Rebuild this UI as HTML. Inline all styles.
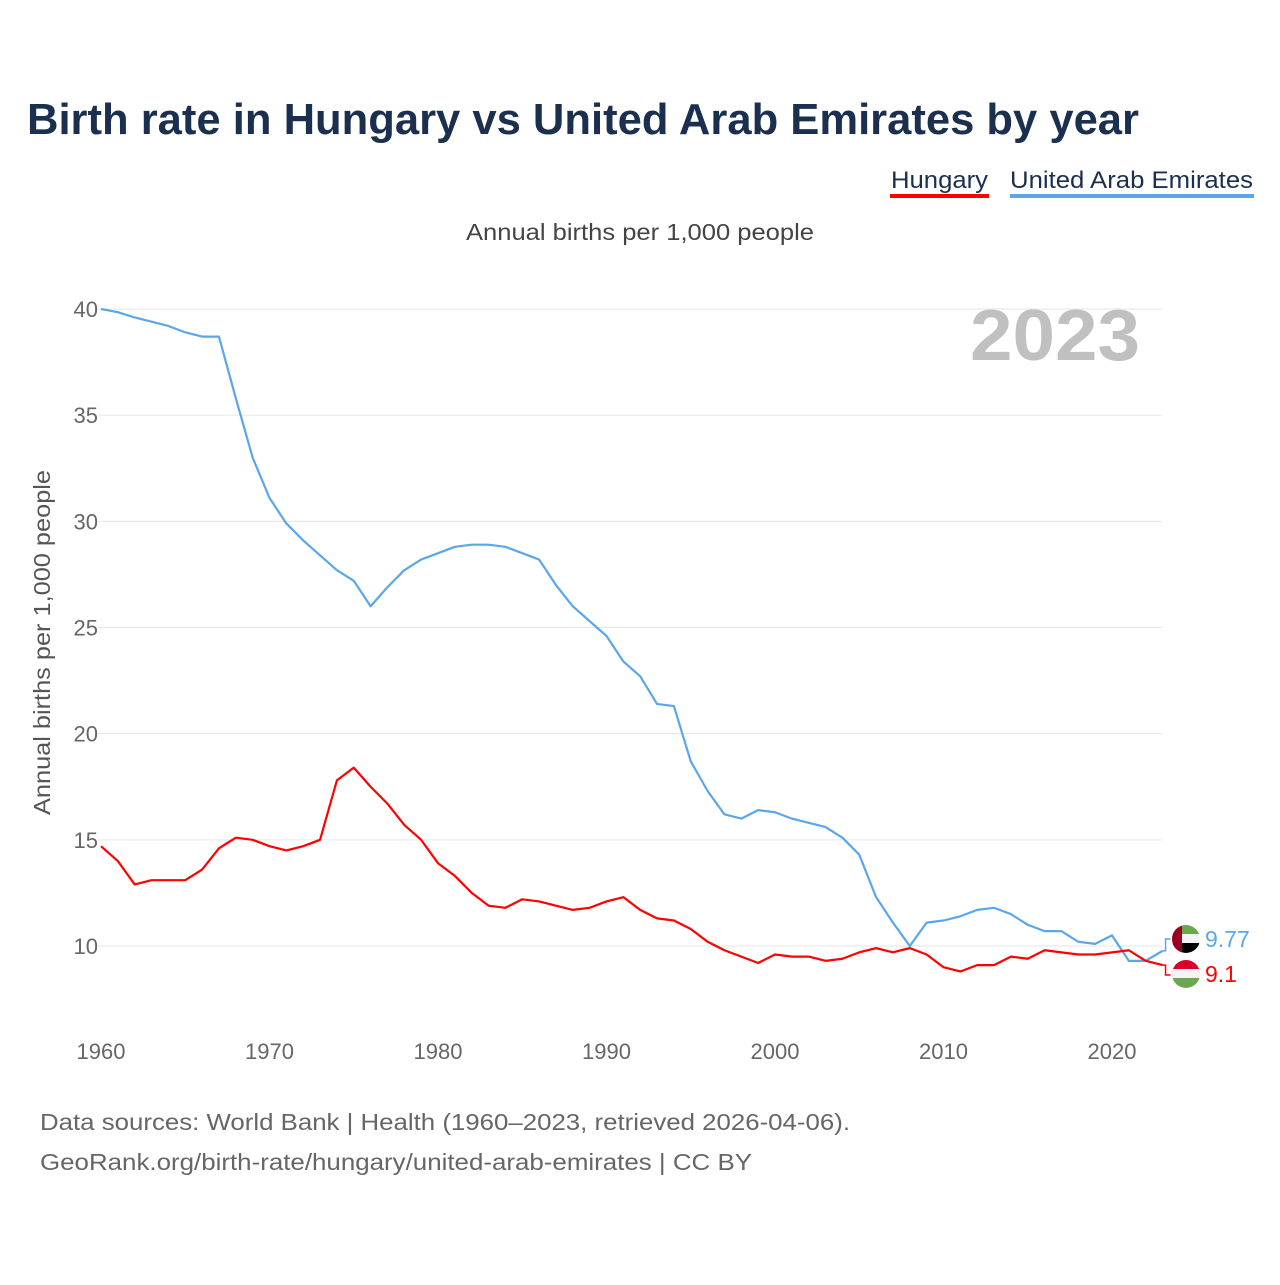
<!DOCTYPE html>
<html><head><meta charset="utf-8"><style>
body{margin:0;background:#fff;font-family:"Liberation Sans",sans-serif;}
svg text{font-family:"Liberation Sans",sans-serif;}
</style></head><body>
<svg id="chart" width="1280" height="1280" viewBox="0 0 1280 1280">
<text x="27" y="134" font-size="44" font-weight="bold" fill="#1b2f4e" textLength="1112" lengthAdjust="spacingAndGlyphs">Birth rate in Hungary vs United Arab Emirates by year</text>
<g><text x="891" y="188" font-size="24" fill="#1b2f4e" textLength="97" lengthAdjust="spacingAndGlyphs">Hungary</text><rect x="890" y="194" width="99" height="4" fill="#ff0000"/></g>
<g><text x="1010" y="188" font-size="24" fill="#1b2f4e" textLength="243" lengthAdjust="spacingAndGlyphs">United Arab Emirates</text><rect x="1010" y="194" width="244" height="4" fill="#5ba6ea"/></g>
<text x="466" y="240" font-size="23" fill="#444" textLength="348" lengthAdjust="spacingAndGlyphs">Annual births per 1,000 people</text>
<text x="970" y="360" font-size="72" font-weight="bold" fill="#c0c0c0" textLength="170" lengthAdjust="spacingAndGlyphs">2023</text>
<text transform="translate(50,815) rotate(-90)" font-size="23" fill="#555" textLength="345" lengthAdjust="spacingAndGlyphs">Annual births per 1,000 people</text>
<g id="grid"></g><g id="lines"></g><g id="labels"></g>
<text x="40" y="1130" font-size="23" fill="#666" textLength="810" lengthAdjust="spacingAndGlyphs">Data sources: World Bank | Health (1960–2023, retrieved 2026-04-06).</text>
<text x="40" y="1170" font-size="23" fill="#666" textLength="712" lengthAdjust="spacingAndGlyphs">GeoRank.org/birth-rate/hungary/united-arab-emirates | CC BY</text>
</svg>
<script>
const years=[];for(let y=1960;y<=2023;y++)years.push(y);
const uae=[40,39.85,39.6,39.4,39.2,38.9,38.7,38.7,35.8,33.0,31.1,29.9,29.1,28.4,27.7,27.2,26.0,26.9,27.7,28.2,28.5,28.8,28.9,28.9,28.8,28.5,28.2,27.0,26.0,25.3,24.6,23.4,22.7,21.4,21.3,18.7,17.3,16.2,16.0,16.4,16.3,16.0,15.8,15.6,15.1,14.3,12.3,11.1,10.0,11.1,11.2,11.4,11.7,11.8,11.5,11.0,10.7,10.7,10.2,10.1,10.5,9.3,9.3,9.77];
const hun=[14.7,14.0,12.9,13.1,13.1,13.1,13.6,14.6,15.1,15.0,14.7,14.5,14.7,15.0,17.8,18.4,17.5,16.7,15.7,15.0,13.9,13.3,12.5,11.9,11.8,12.2,12.1,11.9,11.7,11.8,12.1,12.3,11.7,11.3,11.2,10.8,10.2,9.8,9.5,9.2,9.6,9.5,9.5,9.3,9.4,9.7,9.9,9.7,9.9,9.6,9.0,8.8,9.1,9.1,9.5,9.4,9.8,9.7,9.6,9.6,9.7,9.8,9.3,9.1];
const yTicks=[10,15,20,25,30,35,40];
const xTicks=[1960,1970,1980,1990,2000,2010,2020];
const NS="http://www.w3.org/2000/svg";
const X=y=>101+(y-1960)*(1011/60);
const Y=v=>946-(v-10)*(637/30);
function mk(t,a,p){const e=document.createElementNS(NS,t);for(const k in a)e.setAttribute(k,a[k]);p.appendChild(e);return e;}
const g=document.getElementById('grid');
yTicks.forEach(v=>{
 const l=mk('line',{x1:98,x2:1162,y1:Y(v),y2:Y(v),stroke:'#e6e6e6','stroke-width':1},g);
 
 
 const t=mk('text',{x:98,y:Y(v)+8,'font-size':22,fill:'#666','text-anchor':'end'},g);t.textContent=v;
 
 
});
xTicks.forEach(v=>{
 const t=mk('text',{x:X(v),y:1059,'font-size':22,fill:'#666','text-anchor':'middle'},g);t.textContent=v;
 
 
});
const L=document.getElementById('lines');
function line(d,c,n){const p=mk('polyline',{points:d.map((v,i)=>X(years[i])+','+Y(v)).join(' '),fill:'none',stroke:c,'stroke-width':2.2,'stroke-linejoin':'round'},L);
 
 }
line(uae,'#5ba6ea','line-uae');line(hun,'#ff0000','line-hungary');
const lb=document.getElementById('labels');
const lx=X(2023);
const uy=Y(uae[63]),hy=Y(hun[63]);
mk('polyline',{points:`${lx},${uy} ${lx+3},${uy} ${lx+3},${939} ${lx+8},939`,fill:'none',stroke:'#5ba6ea','stroke-width':1.5},lb);
mk('polyline',{points:`${lx},${hy} ${lx+3},${hy} ${lx+3},${975} ${lx+8},975`,fill:'none',stroke:'#ff0000','stroke-width':1.5},lb);
const f1=mk('g',{},lb);
mk('clipPath',{id:'c1'},f1);mk('circle',{cx:1186,cy:939,r:14},document.getElementById('c1'));
const fg=mk('g',{'clip-path':'url(#c1)'},f1);
mk('rect',{x:1172,y:925,width:28,height:10,fill:'#6aa84f'},fg);mk('rect',{x:1172,y:934,width:28,height:10,fill:'#f4f4f4'},fg);mk('rect',{x:1172,y:943,width:28,height:10,fill:'#000'},fg);mk('rect',{x:1172,y:925,width:10,height:28,fill:'#9b0020'},fg);
const f2=mk('g',{},lb);
mk('clipPath',{id:'c2'},f2);mk('circle',{cx:1186,cy:974,r:14},document.getElementById('c2'));
const hg=mk('g',{'clip-path':'url(#c2)'},f2);
mk('rect',{x:1172,y:960,width:28,height:10,fill:'#d8002a'},hg);mk('rect',{x:1172,y:969,width:28,height:10,fill:'#f4f4f4'},hg);mk('rect',{x:1172,y:978,width:28,height:10,fill:'#6aa84f'},hg);
const t1=mk('text',{x:1205,y:947,'font-size':23,fill:'#5ba6ea'},lb);t1.textContent=uae[63];


const t2=mk('text',{x:1205,y:982,'font-size':23,fill:'#ff0000'},lb);t2.textContent=hun[63];


</script>
</body></html>
